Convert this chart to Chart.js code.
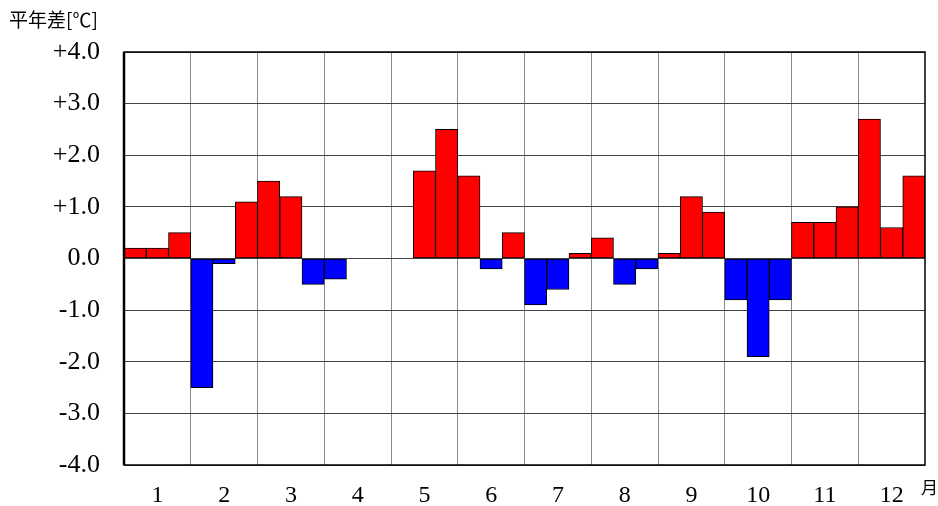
<!DOCTYPE html>
<html>
<head>
<meta charset="utf-8">
<script src="https://cdn.jsdelivr.net/npm/chart.js@4/dist/chart.umd.min.js"></script>
<style>
    html, body { margin: 0; padding: 0; background: #fff; }
    #wrap { width: 938px; height: 506px; position: relative; }
</style>
</head>
<body>
<div id="wrap"><canvas id="chart" width="938" height="506"></canvas></div>
<script>

// =========================
// DATA
// =========================

const months = ["1", "2", "3", "4", "5", "6", "7", "8", "9", "10", "11", "12"];

// three 10-day periods per month, null = no data
const anomaly = [
    0.2, 0.2, 0.5,
    -2.5, -0.1, 1.1,
    1.5, 1.2, -0.5,
    -0.4, null, null,
    null, 1.7, 2.5,
    1.6, -0.2, 0.5,
    -0.9, -0.6, 0.1,
    0.4, -0.5, -0.2,
    0.1, 1.2, 0.9,
    -0.8, -1.9, -0.8,
    0.7, 0.7, 1.0,
    2.7, 0.6, 1.6
];

const yTicks = [-4, -3, -2, -1, 0, 1, 2, 3, 4];

const slots = anomaly.map((_, i) => i);

// =========================
// PLUGINS
// =========================

const frame = {
    id: "frame",
    afterDraw(chart) {
        const a = chart.chartArea;
        const ctx = chart.ctx;
        ctx.save();
        ctx.strokeStyle = "#000";
        ctx.lineWidth = 1.5;
        ctx.strokeRect(a.left, a.top, a.right - a.left, a.bottom - a.top);
        ctx.lineWidth = 2.5;
        ctx.beginPath();
        ctx.moveTo(a.left, a.top);
        ctx.lineTo(a.left, a.bottom);
        ctx.stroke();

        ctx.fillStyle = "#000";
        ctx.textBaseline = "middle";
        ctx.textAlign = "left";
        ctx.font = "19px 'Noto Sans CJK JP'";
        ctx.fillText("平年差[℃]", 9, 20);
        ctx.font = "17px 'Noto Sans CJK JP'";
        ctx.fillText("月", 921, 488);
        ctx.restore();
    }
};

// =========================
// CHART
// =========================

new Chart(document.getElementById("chart").getContext("2d"), {
    type: "bar",
    data: {
        labels: slots,
        datasets: [{
            data: anomaly,
            backgroundColor: anomaly.map(v => v >= 0 ? "#ff0000" : "#0000ff"),
            borderColor: "#000",
            borderWidth: 1,
            borderSkipped: false,
            barPercentage: 1.0,
            categoryPercentage: 1.0
        }]
    },
    options: {
        responsive: false,
        animation: false,
        layout: {
            padding: { left: 0, top: 52, right: 13, bottom: 0 }
        },
        plugins: {
            legend: { display: false },
            tooltip: { enabled: false }
        },
        scales: {
            x: {
                offset: true,
                grid: {
                    offset: true,
                    drawTicks: false,
                    color: ctx => (ctx.index !== undefined && ctx.index % 3 === 0) ? "#8a8a8a" : "rgba(0,0,0,0)",
                    lineWidth: 1
                },
                border: { display: false },
                ticks: {
                    autoSkip: false,
                    maxRotation: 0,
                    padding: 16,
                    color: "#000",
                    font: { family: "'Liberation Serif', serif", size: 24 },
                    callback: (v, i) => i % 3 === 1 ? months[Math.floor(i / 3)] : ""
                },
                afterFit: s => { s.height = 41; }
            },
            y: {
                min: -4,
                max: 4,
                afterBuildTicks: s => { s.ticks = yTicks.map(v => ({ value: v })); },
                grid: {
                    drawTicks: false,
                    color: "#444",
                    lineWidth: 1
                },
                border: { display: false },
                ticks: {
                    padding: 24,
                    color: "#000",
                    font: { family: "'Liberation Serif', serif", size: 26 },
                    callback: v => v > 0 ? "+" + v.toFixed(1) : v.toFixed(1)
                },
                afterFit: s => { s.width = 124; }
            }
        }
    },
    plugins: [frame]
});
</script>
</body>
</html>
